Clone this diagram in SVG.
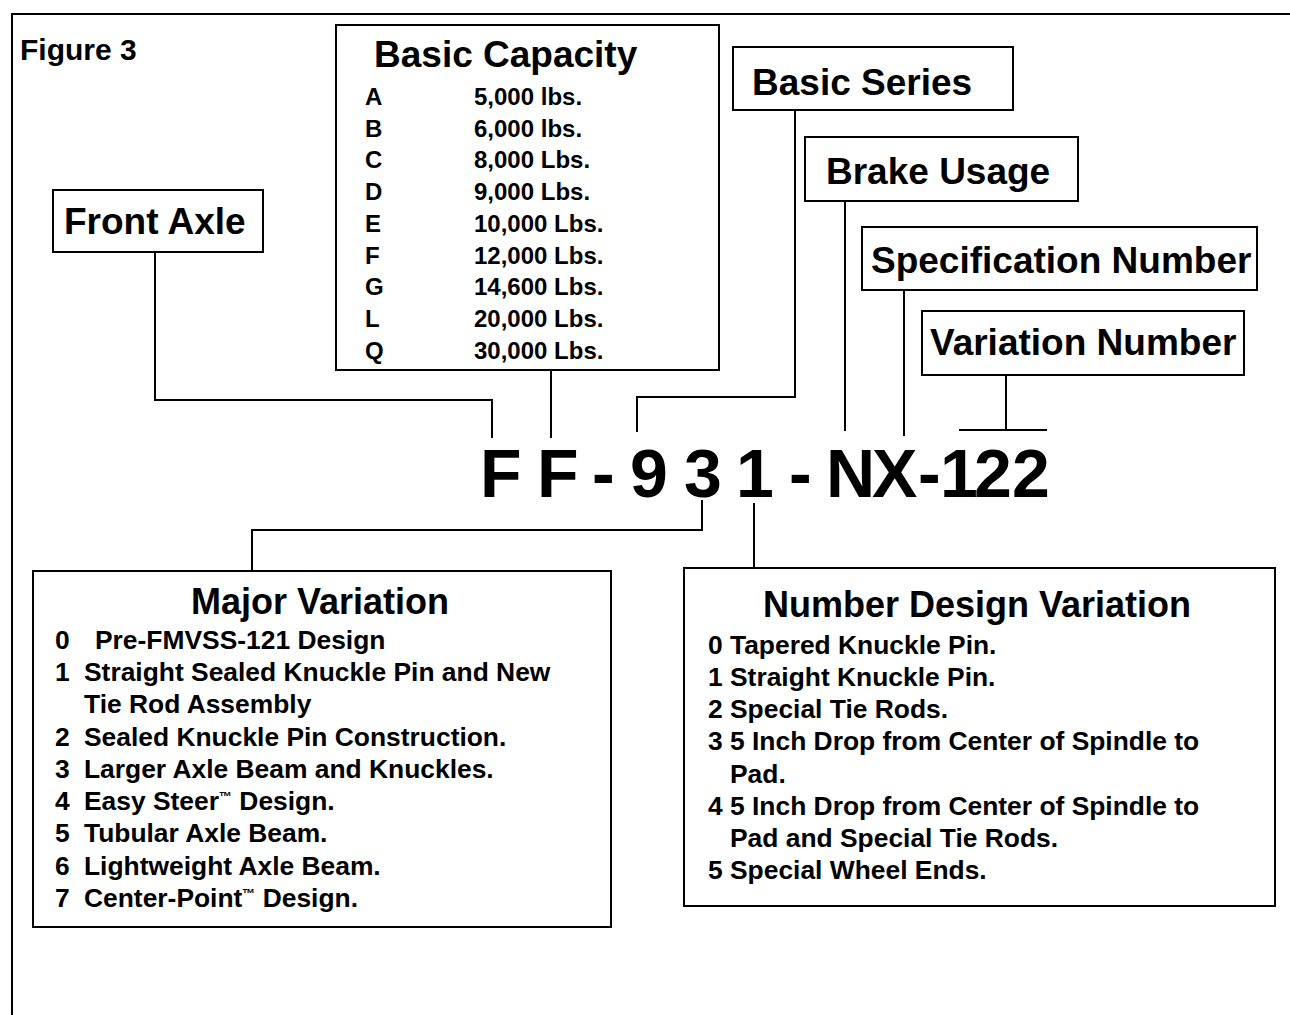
<svg xmlns="http://www.w3.org/2000/svg" width="1290" height="1015" viewBox="0 0 1290 1015">
<style>
text{font-family:"Liberation Sans",Arial,Helvetica,sans-serif;font-weight:bold;fill:#000}
.box{fill:#fff;stroke:#000;stroke-width:2}
.ln{fill:none;stroke:#000;stroke-width:2}
.hd{font-size:37px}
.fig{font-size:30px}
.row{font-size:24px}
.item{font-size:26.4px}
.tm{font-size:13px}
.title{font-size:36px;text-anchor:middle}
.big{font-size:68px}
</style>
<rect width="1290" height="1015" fill="#fff"/>
<g id="frame"><path class="ln" d="M12 1015 V14 H1290"/></g>
<text id="figure-label" class="fig" x="20" y="60">Figure 3</text>
<g id="connectors">
<path class="ln" d="M155 252 V400 H492 V438"/>
<path class="ln" d="M551 370 V438"/>
<path class="ln" d="M795 110 V397 H637 V432"/>
<path class="ln" d="M845 201 V431"/>
<path class="ln" d="M904 290 V436"/>
<path class="ln" d="M1006 375 V430 M959 430 H1047"/>
<path class="ln" d="M702 500 V530 H252 V571"/>
<path class="ln" d="M754 503 V568"/>
</g>
<g id="front-axle"><rect class="box" x="53" y="190" width="210" height="62"/><text class="hd" x="64" y="234">Front Axle</text></g>
<g id="basic-capacity"><rect class="box" x="336" y="25" width="383" height="345"/><text class="hd" x="374" y="67">Basic Capacity</text>
<text class="row" x="365" y="105">A</text><text class="row" x="474" y="105">5,000 lbs.</text>
<text class="row" x="365" y="137">B</text><text class="row" x="474" y="137">6,000 lbs.</text>
<text class="row" x="365" y="168">C</text><text class="row" x="474" y="168">8,000 Lbs.</text>
<text class="row" x="365" y="200">D</text><text class="row" x="474" y="200">9,000 Lbs.</text>
<text class="row" x="365" y="232">E</text><text class="row" x="474" y="232">10,000 Lbs.</text>
<text class="row" x="365" y="264">F</text><text class="row" x="474" y="264">12,000 Lbs.</text>
<text class="row" x="365" y="295">G</text><text class="row" x="474" y="295">14,600 Lbs.</text>
<text class="row" x="365" y="327">L</text><text class="row" x="474" y="327">20,000 Lbs.</text>
<text class="row" x="365" y="359">Q</text><text class="row" x="474" y="359">30,000 Lbs.</text>
</g>
<g id="basic-series"><rect class="box" x="733" y="47" width="280" height="63"/><text class="hd" x="752" y="95">Basic Series</text></g>
<g id="brake-usage"><rect class="box" x="805" y="137" width="273" height="64"/><text class="hd" x="826" y="184">Brake Usage</text></g>
<g id="specification-number"><rect class="box" x="862" y="227" width="395" height="63"/><text class="hd" x="871" y="273">Specification Number</text></g>
<g id="variation-number"><rect class="box" x="922" y="311" width="322" height="64"/><text class="hd" x="930" y="355">Variation Number</text></g>
<g id="part-number"><text class="big" x="480 537 592 630 684 736 789 826 872 918 940 974 1012" y="497">FF-931-NX-122</text></g>
<g id="major-variation"><rect class="box" x="33" y="571" width="578" height="356"/>
<text class="title" x="320" y="614">Major Variation</text>
<text class="item" x="55" y="649">0</text><text class="item" x="95" y="649">Pre-FMVSS-121 Design</text>
<text class="item" x="55" y="681">1</text><text class="item" x="84" y="681">Straight Sealed Knuckle Pin and New</text>
<text class="item" x="84" y="713">Tie Rod Assembly</text>
<text class="item" x="55" y="746">2</text><text class="item" x="84" y="746">Sealed Knuckle Pin Construction.</text>
<text class="item" x="55" y="778">3</text><text class="item" x="84" y="778">Larger Axle Beam and Knuckles.</text>
<text class="item" x="55" y="810">4</text><text class="item" x="84" y="810">Easy Steer<tspan class="tm" dy="-9">™</tspan><tspan dy="9"> Design.</tspan></text>
<text class="item" x="55" y="842">5</text><text class="item" x="84" y="842">Tubular Axle Beam.</text>
<text class="item" x="55" y="875">6</text><text class="item" x="84" y="875">Lightweight Axle Beam.</text>
<text class="item" x="55" y="907">7</text><text class="item" x="84" y="907">Center-Point<tspan class="tm" dy="-9">™</tspan><tspan dy="9"> Design.</tspan></text>
</g>
<g id="number-design-variation"><rect class="box" x="684" y="568" width="591" height="338"/>
<text class="title" x="977" y="617">Number Design Variation</text>
<text class="item" x="708" y="654">0 Tapered Knuckle Pin.</text>
<text class="item" x="708" y="686">1 Straight Knuckle Pin.</text>
<text class="item" x="708" y="718">2 Special Tie Rods.</text>
<text class="item" x="708" y="750">3 5 Inch Drop from Center of Spindle to</text>
<text class="item" x="730" y="783">Pad.</text>
<text class="item" x="708" y="815">4 5 Inch Drop from Center of Spindle to</text>
<text class="item" x="730" y="847">Pad and Special Tie Rods.</text>
<text class="item" x="708" y="879">5 Special Wheel Ends.</text>
</g>
</svg>
